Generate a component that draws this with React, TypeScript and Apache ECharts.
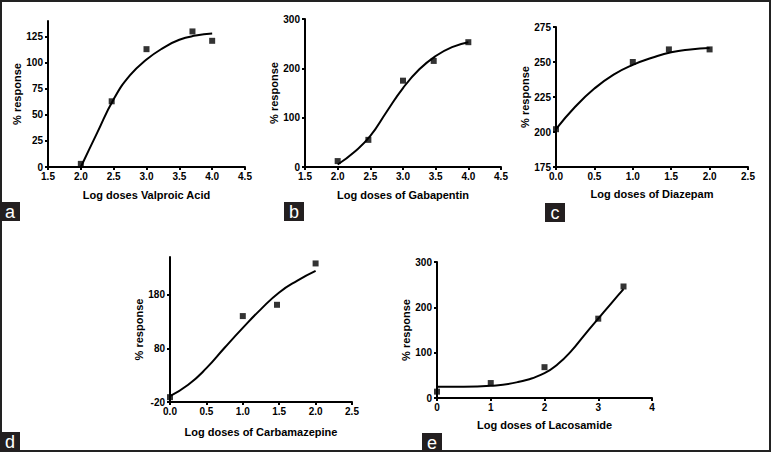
import React, { useEffect, useRef } from "react";
import * as echarts from "echarts";

const FONT = '"Liberation Sans Narrow", "Arial Narrow", "Liberation Sans", Arial, sans-serif';

// Panel a: Valproic Acid
const valproicDoses = [2.0, 2.47, 3.0, 3.7, 4.0];
const valproicResponse = [3, 63, 113, 130, 121];
const valproicFitX = [2.0, 2.25, 2.5, 2.75, 3.0, 3.25, 3.5, 3.75, 4.0];
const valproicFitY = [0, 33, 65, 88, 103, 114, 122, 126, 128];
const valproicYTicks = [0, 25, 50, 75, 100, 125];

// Panel b: Gabapentin
const gabapentinDoses = [2.0, 2.47, 3.0, 3.47, 4.0];
const gabapentinResponse = [12, 55, 175, 215, 253];
const gabapentinFitX = [2.0, 2.25, 2.5, 2.75, 3.0, 3.25, 3.5, 3.75, 4.0];
const gabapentinFitY = [5, 30, 63, 112, 160, 198, 225, 243, 253];
const gabapentinYTicks = [0, 100, 200, 300];

// Panel c: Diazepam
const diazepamDoses = [0, 1.0, 1.47, 2.0];
const diazepamResponse = [202, 250, 259, 259];
const diazepamFitX = [0, 0.25, 0.5, 0.75, 1.0, 1.25, 1.5, 1.75, 2.0];
const diazepamFitY = [202, 218, 231, 241, 248, 253, 257, 259, 260];
const diazepamYTicks = [175, 200, 225, 250, 275];

// Panel d: Carbamazepine
const carbamazepineDoses = [0, 1.0, 1.47, 2.0];
const carbamazepineResponse = [-11, 140, 161, 238];
const carbamazepineFitX = [0, 0.25, 0.5, 0.75, 1.0, 1.25, 1.5, 1.75, 2.0];
const carbamazepineFitY = [-9, 12, 43, 81, 118, 153, 184, 206, 224];
const carbamazepineYTicks = [-20, 80, 180];

// Panel e: Lacosamide
const lacosamideDoses = [0, 1, 2, 3, 3.47];
const lacosamideResponse = [14, 33, 68, 175, 246];
const lacosamideFitX = [0, 0.5, 1, 1.5, 2, 2.25, 2.5, 2.75, 3, 3.25, 3.47];
const lacosamideFitY = [25, 25, 27, 35, 55, 75, 104, 140, 175, 210, 240];
const lacosamideYTicks = [0, 100, 200, 300];

const xTitles = [
  "Log doses Valproic Acid",
  "Log doses of Gabapentin",
  "Log doses of Diazepam",
  "Log doses of Carbamazepine",
  "Log doses of Lacosamide",
];
const panelLetters = ["a", "b", "c", "d", "e"];
const yTitle = "% response";

const zip = (xs: number[], ys: number[]) => xs.map((x, i) => [x, ys[i]]);

export default function App() {
  const ref = useRef<HTMLDivElement>(null);
  useEffect(() => {
    document.body.style.margin = "0";
    const chart = echarts.init(ref.current!, null, { renderer: "svg" });

    const panels = [
      { grid: { left: 48, top: 21, width: 197, height: 146 }, x: [1.5, 4.5, 0.5], y: [0, 140], yTicks: valproicYTicks, pts: zip(valproicDoses, valproicResponse), fit: zip(valproicFitX, valproicFitY), dec: 1, yGap: 23, xGap: 22, letter: { x: 0, y: 202 } },
      { grid: { left: 305, top: 19, width: 196, height: 148 }, x: [1.5, 4.5, 0.5], y: [0, 300], yTicks: gabapentinYTicks, pts: zip(gabapentinDoses, gabapentinResponse), fit: zip(gabapentinFitX, gabapentinFitY), dec: 1, yGap: 22, xGap: 22, letter: { x: 284, y: 202 } },
      { grid: { left: 556, top: 27, width: 192, height: 140 }, x: [0, 2.5, 0.5], y: [175, 275], yTicks: diazepamYTicks, pts: zip(diazepamDoses, diazepamResponse), fit: zip(diazepamFitX, diazepamFitY), dec: 1, yGap: 23, xGap: 21, letter: { x: 545, y: 203 } },
      { grid: { left: 170, top: 257, width: 182, height: 145 }, x: [0, 2.5, 0.5], y: [-20, 250], yTicks: carbamazepineYTicks, pts: zip(carbamazepineDoses, carbamazepineResponse), fit: zip(carbamazepineFitX, carbamazepineFitY), dec: 1, yGap: 26, xGap: 24, letter: { x: 0, y: 432 } },
      { grid: { left: 437, top: 262, width: 215, height: 136 }, x: [0, 4, 1], y: [0, 300], yTicks: lacosamideYTicks, pts: zip(lacosamideDoses, lacosamideResponse), fit: zip(lacosamideFitX, lacosamideFitY), dec: 0, yGap: 26, xGap: 21, letter: { x: 422, y: 433 } },
    ];

    const axisLine = { show: true, onZero: false, lineStyle: { color: "#000", width: 2 } };
    const tickStyle = { lineStyle: { color: "#000", width: 2 } };
    const labelStyle = { color: "#000", fontWeight: "bold" as const, fontSize: 10, fontFamily: FONT };
    const nameStyle = { color: "#000", fontWeight: "bold" as const, fontSize: 11, fontFamily: FONT };

    const grid = panels.map((p) => ({ ...p.grid, containLabel: false }));
    const xAxis = panels.map((p, i) => ({
      type: "value",
      gridIndex: i,
      min: p.x[0],
      max: p.x[1],
      interval: p.x[2],
      axisLine,
      axisTick: { show: true, length: 3, ...tickStyle },
      axisLabel: { ...labelStyle, margin: 4, formatter: (v: number) => v.toFixed(p.dec) },
      splitLine: { show: false },
      name: xTitles[i],
      nameLocation: "middle",
      nameGap: p.xGap,
      nameTextStyle: nameStyle,
    }));
    const yAxis = panels.map((p, i) => ({
      type: "value",
      gridIndex: i,
      min: p.y[0],
      max: p.y[1],
      axisLine,
      axisTick: { show: true, length: 3, customValues: p.yTicks, ...tickStyle },
      axisLabel: { ...labelStyle, margin: 5, customValues: p.yTicks },
      splitLine: { show: false },
      name: yTitle,
      nameLocation: "middle",
      nameGap: p.yGap,
      nameTextStyle: nameStyle,
    }));
    const series: any[] = [];
    panels.forEach((p, i) => {
      series.push({
        type: "line",
        xAxisIndex: i,
        yAxisIndex: i,
        data: p.fit,
        smooth: true,
        showSymbol: false,
        lineStyle: { color: "#000", width: 2 },
        silent: true,
      });
      series.push({
        type: "scatter",
        xAxisIndex: i,
        yAxisIndex: i,
        data: p.pts,
        symbol: "rect",
        symbolSize: 6,
        itemStyle: { color: "#000" },
      });
    });

    const graphic: any[] = [
      { type: "rect", shape: { x: 1, y: 1, width: 769, height: 450 }, style: { fill: "none", stroke: "#222", lineWidth: 2 }, silent: true },
    ];
    panels.forEach((p, i) => {
      graphic.push({
        type: "group",
        x: p.letter.x,
        y: p.letter.y,
        children: [
          { type: "rect", shape: { x: 0, y: 0, width: 20, height: 19 }, style: { fill: "#231f20" } },
          { type: "text", x: 10, y: 10, style: { text: panelLetters[i], fill: "#fff", font: '18px "Liberation Sans", Arial, sans-serif', textAlign: "center", textVerticalAlign: "middle" } },
        ],
      });
    });

    chart.setOption({
      animation: false,
      backgroundColor: "#fff",
      grid,
      xAxis,
      yAxis,
      series,
      graphic,
    });
    return () => chart.dispose();
  }, []);
  return <div ref={ref} style={{ position: "absolute", left: 0, top: 0, width: 771, height: 452 }} />;
}
